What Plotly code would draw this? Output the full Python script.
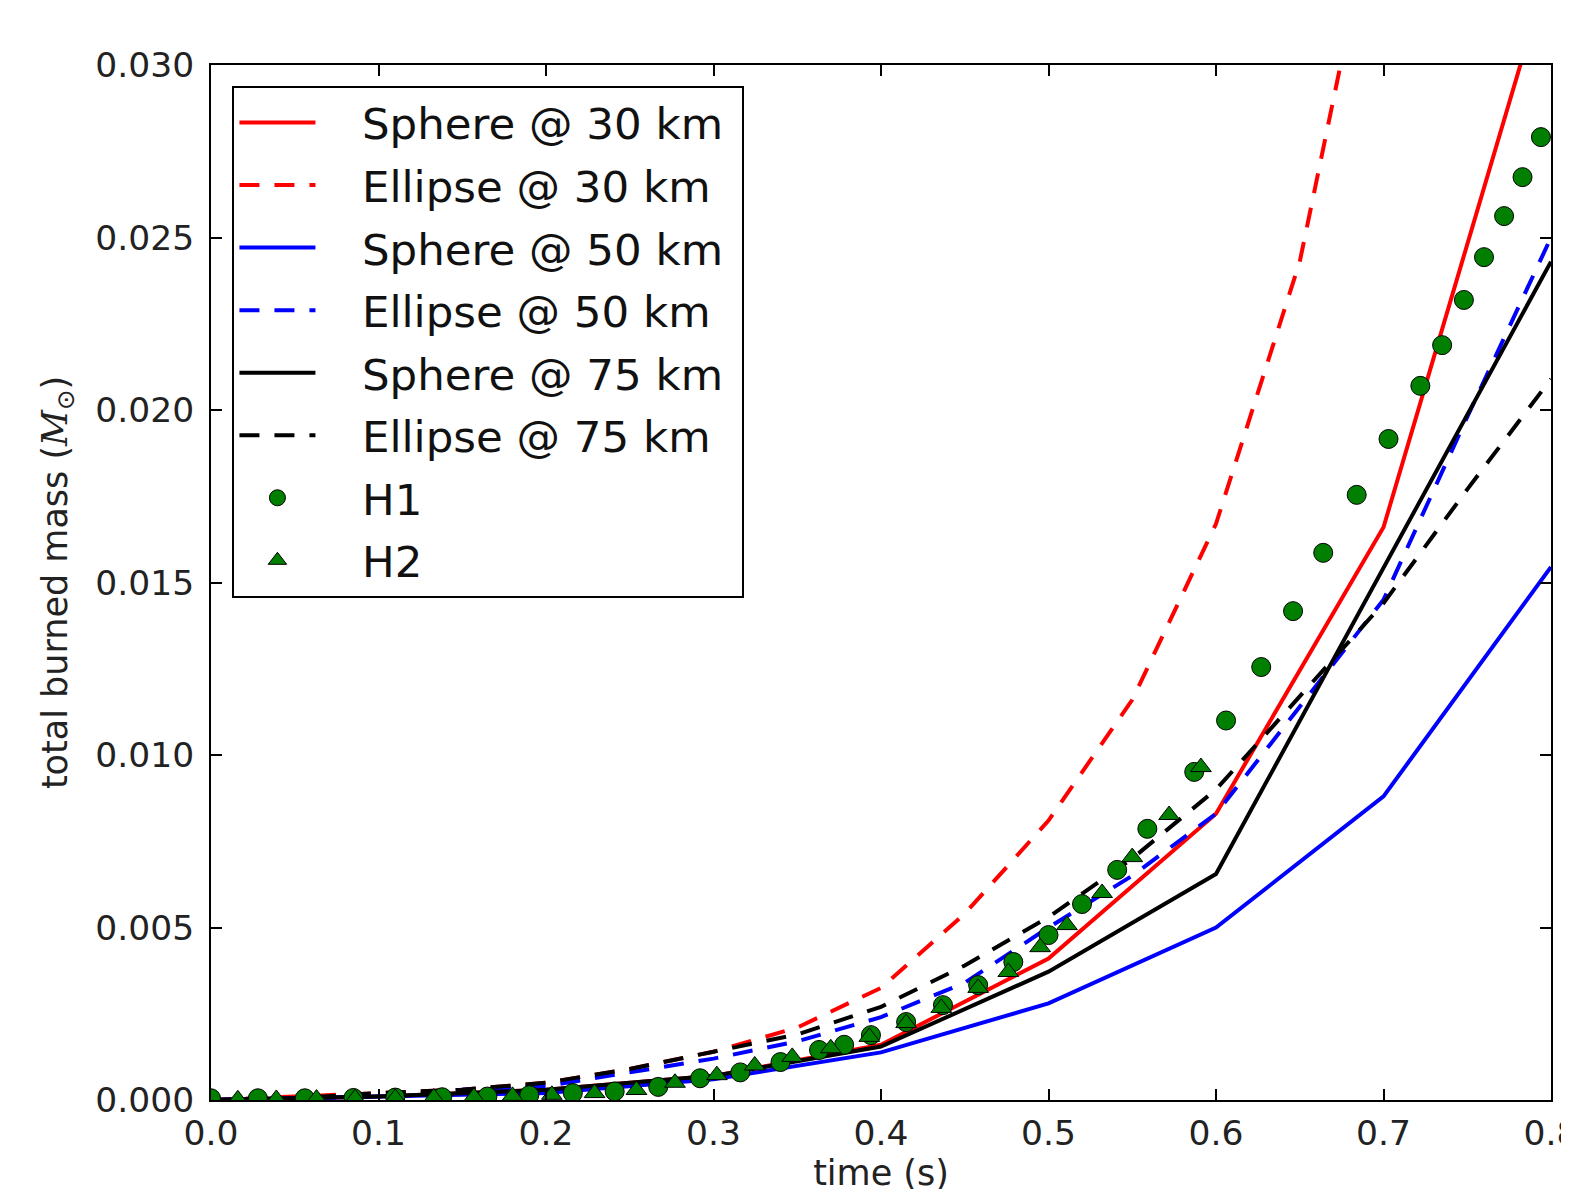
import plotly.graph_objects as go

# ---- data ----
t_sph = [0.0, 0.1, 0.2, 0.3, 0.4, 0.5, 0.6, 0.7, 0.8]
sphere30 = [0.0, 0.0001, 0.0003, 0.0007, 0.0016, 0.0041, 0.0083, 0.0166, 0.0330]
sphere50 = [0.0, 0.0001, 0.0002, 0.0006, 0.00138, 0.00280, 0.00500, 0.00880, 0.01545]
sphere75 = [0.0, 0.0001, 0.0003, 0.0007, 0.00155, 0.00372, 0.00655, 0.01540, 0.02430]

t_ell = [0.0, 0.05, 0.1, 0.15, 0.2, 0.25, 0.3, 0.35, 0.4, 0.45, 0.5, 0.55, 0.6, 0.65, 0.7, 0.75, 0.8]
ellipse30 = [0.0, 0.0001, 0.0002, 0.0003, 0.0005, 0.0009, 0.0014, 0.0021, 0.00325, 0.0054, 0.0081, 0.0116, 0.0167, 0.0243, 0.0360, 0.052, 0.075]
ellipse50 = [0.0, 0.00005, 0.0001, 0.0003, 0.0004, 0.0008, 0.0012, 0.0017, 0.0024, 0.0034, 0.0050, 0.0065, 0.0083, 0.0114, 0.0145, 0.0198, 0.0250]
ellipse75 = [0.0, 0.00005, 0.0002, 0.0003, 0.0005, 0.0009, 0.0014, 0.0019, 0.0027, 0.0039, 0.0053, 0.0070, 0.0090, 0.0117, 0.0144, 0.0177, 0.0209]

t_h1 = [0.0, 0.028, 0.056, 0.085, 0.110, 0.138, 0.165, 0.190, 0.216, 0.241, 0.267, 0.292, 0.316,
        0.340, 0.363, 0.378, 0.394, 0.415, 0.437, 0.458, 0.479, 0.500, 0.520, 0.541, 0.559, 0.587,
        0.606, 0.627, 0.646, 0.664, 0.684, 0.703, 0.722, 0.735, 0.748, 0.760, 0.772, 0.783, 0.794]
m_h1 = [0.00005, 0.00005, 0.00005, 0.00006, 0.00007, 0.00008, 0.0001, 0.00014, 0.0002, 0.00025, 0.00038,
        0.00063, 0.0008, 0.0011, 0.00145, 0.0016, 0.00188, 0.00226, 0.00275, 0.00333, 0.0040, 0.00478,
        0.00568, 0.00667, 0.00786, 0.00951, 0.0110, 0.01255, 0.01417, 0.01586, 0.01754, 0.01916, 0.0207,
        0.02188, 0.02319, 0.02443, 0.02562, 0.02675, 0.02791]

t_h2 = [0.016, 0.039, 0.063, 0.086, 0.110, 0.133, 0.157, 0.180, 0.2035, 0.229, 0.254, 0.277, 0.302,
        0.3246, 0.347, 0.370, 0.393, 0.415, 0.436, 0.458, 0.476, 0.495, 0.511, 0.532, 0.550, 0.572, 0.591]
m_h2 = [0.00002, 0.00003, 0.00004, 0.00005, 0.00006, 0.00007, 0.00009, 0.00012, 0.00015, 0.0002, 0.00029,
        0.0005, 0.00072, 0.0010, 0.00125, 0.0015, 0.00183, 0.00223, 0.00267, 0.00325, 0.00371, 0.00443,
        0.00507, 0.0060, 0.00704, 0.00826, 0.00965]

x_ticks = [0.0, 0.1, 0.2, 0.3, 0.4, 0.5, 0.6, 0.7, 0.8]
y_ticks = [0.000, 0.005, 0.010, 0.015, 0.020, 0.025, 0.030]

RED, BLUE, BLACK, GREEN = "#ff0000", "#0000ff", "#000000", "#007f00"
DASH = "20px,15px"
LW = 4
NB = "\u00a0"
PAD = NB * 3

fig = go.Figure()
lines = [
    ("Sphere @ 30 km", t_sph, sphere30, RED, "solid"),
    ("Ellipse @ 30 km", t_ell, ellipse30, RED, DASH),
    ("Sphere @ 50 km", t_sph, sphere50, BLUE, "solid"),
    ("Ellipse @ 50 km", t_ell, ellipse50, BLUE, DASH),
    ("Sphere @ 75 km", t_sph, sphere75, BLACK, "solid"),
    ("Ellipse @ 75 km", t_ell, ellipse75, BLACK, DASH),
]
for i, (name, x, y, c, d) in enumerate(lines):
    fig.add_trace(go.Scatter(x=x, y=y, mode="lines", name=PAD + name + NB, legendgroup=f"g{i}",
                             line=dict(color=c, width=LW, dash=d)))
fig.add_trace(go.Scatter(x=t_h1, y=m_h1, mode="markers", name=PAD + "H1", legendgroup="g6",
                         marker=dict(symbol="circle", size=19, color=GREEN,
                                     line=dict(color="#000000", width=1))))
fig.add_trace(go.Scatter(x=t_h2, y=m_h2, mode="markers", name=PAD + "H2", legendgroup="g7",
                         marker=dict(symbol="triangle-up", size=18, color=GREEN,
                                     line=dict(color="#000000", width=1))))

axis_common = dict(showgrid=False, zeroline=False, showline=True, linecolor="black", linewidth=2,
                   mirror="allticks", ticks="inside", ticklen=11, tickwidth=1.5, tickcolor="black",
                   ticklabeloverflow="allow",
                   tickfont=dict(family="DejaVu Sans", size=34.5, color="#222222"))

fig.update_layout(
    width=1569, height=1189,
    paper_bgcolor="white", plot_bgcolor="white",
    margin=dict(l=203, r=26, t=57, b=97),
    font=dict(family="DejaVu Sans", color="#222222"),
    xaxis=dict(range=[0.0, 0.8], tickvals=x_ticks, ticktext=[f"{v:.1f}" for v in x_ticks],
               title=dict(text="time (s)", font=dict(size=35, family="DejaVu Sans"), standoff=6),
               ticklabelstandoff=2,
               automargin=False, **axis_common),
    yaxis=dict(range=[0.0, 0.030], tickvals=y_ticks, ticktext=[f"{v:.3f}" for v in y_ticks],
               title=dict(text="total burned mass (<span style=\"font-family:'DejaVu Serif'\"><i>M</i></span><sub>⊙</sub>)",
                          font=dict(size=35, family="DejaVu Sans"), standoff=17),
               ticklabelstandoff=8,
               automargin=False, **axis_common),
    showlegend=True,
    legend=dict(x=0.016, y=0.98, xanchor="left", yanchor="top",
                bgcolor="white", bordercolor="black", borderwidth=2,
                font=dict(family="DejaVu Sans", size=43.5, color="#111111"),
                traceorder="grouped", tracegroupgap=3, itemwidth=76),
)

fig.write_html("out.html")
